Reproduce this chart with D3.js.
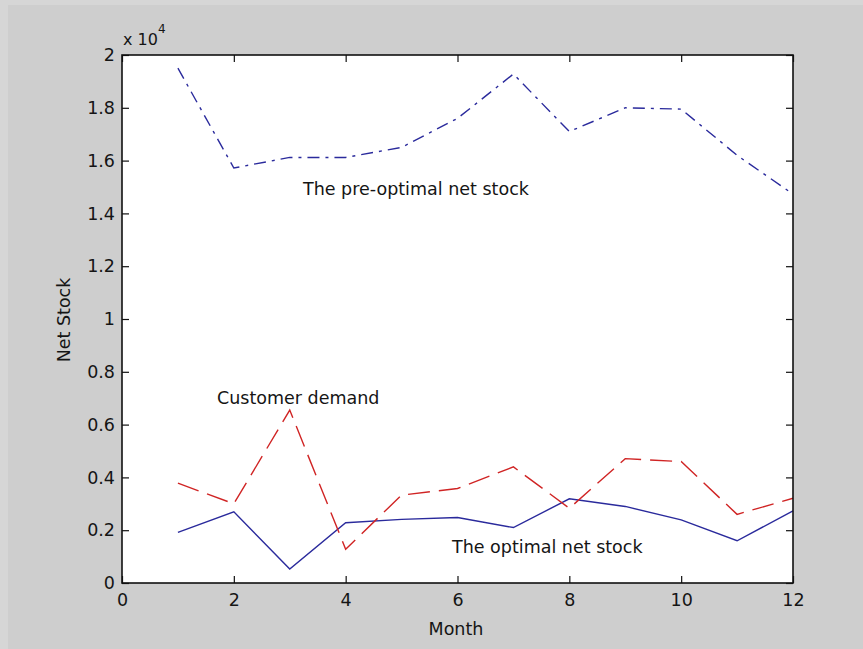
<!DOCTYPE html>
<html>
<head>
<meta charset="utf-8">
<script src="https://cdn.jsdelivr.net/npm/d3@7"></script>
<style>
  body { margin: 0; background: #cecece; }
  svg { display: block; }
  text { font-family: "DejaVu Sans", sans-serif; fill: #151515; }
</style>
</head>
<body>
<svg id="chart" width="863" height="649"></svg>
<script>
// months 1..12
const months = [1, 2, 3, 4, 5, 6, 7, 8, 9, 10, 11, 12];
// (units of net stock)
const preOptimal = [19500, 15720, 16120, 16120, 16500, 17600, 19280, 17100, 18000, 17950, 16200, 14730];
const demand     = [3780, 3000, 6550, 1280, 3330, 3580, 4400, 2830, 4710, 4600, 2600, 3210];
const optimal    = [1920, 2700, 530, 2280, 2410, 2480, 2100, 3190, 2900, 2390, 1600, 2730];

const xTicks = [0, 2, 4, 6, 8, 10, 12];
const yTicks = [0, 2000, 4000, 6000, 8000, 10000, 12000, 14000, 16000, 18000, 20000];

const svg = d3.select('#chart');
const width = 863, height = 649;
const margin = { top: 55, right: 70, bottom: 66, left: 122 };
const innerWidth = width - margin.left - margin.right;
const innerHeight = height - margin.top - margin.bottom;

// faint lighter strip at the left/top edge of the screenshot
svg.append('rect').attr('x', 0).attr('y', 0).attr('width', width).attr('height', height).attr('fill', '#cecece');
svg.append('rect').attr('x', 0).attr('y', 0).attr('width', 8).attr('height', height).attr('fill', '#d6d6d6');
svg.append('rect').attr('x', 0).attr('y', 0).attr('width', width).attr('height', 5).attr('fill', '#d6d6d6');

const xScale = d3.scaleLinear().domain([0, 12]).range([0, innerWidth]);
const yScale = d3.scaleLinear().domain([0, 20000]).range([innerHeight, 0]);

const g = svg.append('g').attr('transform', `translate(${margin.left},${margin.top})`);

g.append('rect')
    .attr('width', innerWidth)
    .attr('height', innerHeight)
    .attr('fill', 'white');

// lines
const line = d3.line()
    .x((d, i) => xScale(months[i]))
    .y(d => yScale(d));

g.append('path').datum(optimal)
    .attr('fill', 'none').attr('stroke', '#2a2a9c').attr('stroke-width', 1.4)
    .attr('d', line);
g.append('path').datum(demand)
    .attr('fill', 'none').attr('stroke', '#d02424').attr('stroke-width', 1.4)
    .attr('stroke-dasharray', '22,9')
    .attr('d', line);
g.append('path').datum(preOptimal)
    .attr('fill', 'none').attr('stroke', '#2a2a9c').attr('stroke-width', 1.4)
    .attr('stroke-dasharray', '12,6,3,6')
    .attr('d', line);

// axes, ticks pointing inward like matlab
const fmt = v => d3.format('')(v / 10000);
g.append('g')
    .call(d3.axisLeft(yScale).tickValues(yTicks).tickFormat(fmt).tickSizeInner(-7).tickSizeOuter(0).tickPadding(7));
g.append('g')
    .attr('transform', `translate(0,${innerHeight})`)
    .call(d3.axisBottom(xScale).tickValues(xTicks).tickFormat(d3.format('')).tickSizeInner(-7).tickSizeOuter(0).tickPadding(11));
g.append('g')
    .call(d3.axisTop(xScale).tickValues(xTicks).tickFormat('').tickSizeInner(-7).tickSizeOuter(0));
g.append('g')
    .attr('transform', `translate(${innerWidth},0)`)
    .call(d3.axisRight(yScale).tickValues(yTicks).tickFormat('').tickSizeInner(-7).tickSizeOuter(0));

g.selectAll('.domain').remove();
g.selectAll('.tick line').attr('stroke', '#111').attr('stroke-width', 1.2);
g.selectAll('.tick text').style('font-size', '17.5px').attr('fill', '#151515')
    .style('font-family', '"DejaVu Sans", sans-serif');

g.append('rect')
    .attr('width', innerWidth)
    .attr('height', innerHeight)
    .attr('fill', 'none')
    .attr('stroke', '#111')
    .attr('stroke-width', 1.6);

// exponent label
const ex = svg.append('text').attr('x', 123).attr('y', 45).style('font-size', '16px');
ex.append('tspan').text('x 10');
ex.append('tspan').attr('dy', -12).style('font-size', '12px').text('4');

// axis titles
svg.append('text')
    .attr('x', 456).attr('y', 635)
    .style('text-anchor', 'middle').style('font-size', '17.5px')
    .text('Month');
svg.append('text')
    .attr('transform', 'translate(70,320) rotate(-90)')
    .style('text-anchor', 'middle').style('font-size', '17.5px')
    .text('Net Stock');

// annotations
svg.append('text').attr('x', 303).attr('y', 195).style('font-size', '17.5px').text('The pre-optimal net stock');
svg.append('text').attr('x', 217).attr('y', 404).style('font-size', '17.5px').text('Customer demand');
svg.append('text').attr('x', 452).attr('y', 553).style('font-size', '17.5px').text('The optimal net stock');
</script>
</body>
</html>
